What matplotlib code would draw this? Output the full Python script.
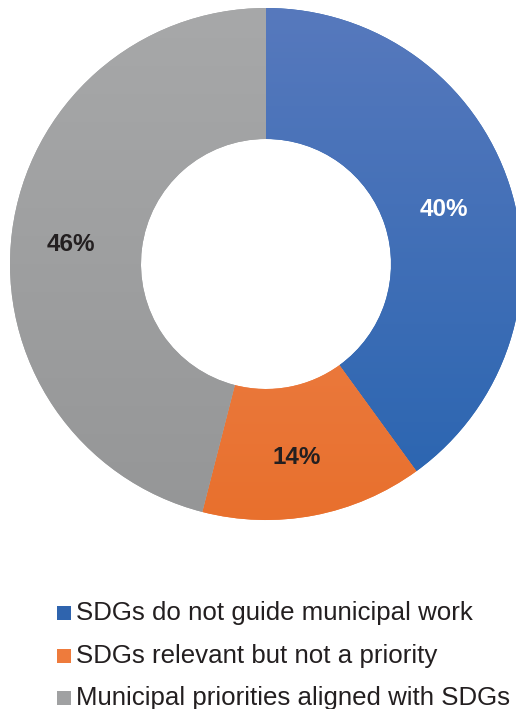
import numpy as np
import matplotlib.pyplot as plt
from matplotlib.colors import LinearSegmentedColormap

# Encuesta: rol de los ODS en el trabajo municipal
categorias = ['SDGs do not guide municipal work',
              'SDGs relevant but not a priority',
              'Municipal priorities aligned with SDGs']
valores = [40, 14, 46]

# colores arriba / abajo del degradado de cada porcion
col_arriba = ['#5779bd', '#f08b5c', '#a7a8a9']
col_abajo = ['#2864b0', '#e8702d', '#959697']
col_leyenda = ['#2f64ae', '#ee7b3c', '#a0a1a2']
col_texto = ['white', '#231f20', '#231f20']

W, H = 516, 709
fig = plt.figure(figsize=(W / 100, H / 100), dpi=100)
ax = fig.add_axes([0, 0, 1, 1])

cx, cy = 266, H - 264
R = 256
wedges = ax.pie(valores, center=(cx, cy), radius=R, startangle=90,
                counterclock=False, colors=col_leyenda,
                wedgeprops=dict(width=131, linewidth=0))[0]

# degradado vertical recortado a cada porcion
grad = np.linspace(0, 1, 256).reshape(-1, 1)
for w, c1, c2 in zip(wedges, col_arriba, col_abajo):
    cmap = LinearSegmentedColormap.from_list('g', [c2, c1])
    im = ax.imshow(grad, cmap=cmap, origin='lower', aspect='auto',
                   extent=(cx - R, cx + R, cy - R, cy + R), zorder=2)
    im.set_clip_path(w)

# etiquetas de porcentaje en el centro del anillo (un poco corridas)
total = sum(valores)
acum = 0
for v, c in zip(valores, col_texto):
    ang = np.deg2rad(90 - (acum + v / 2) / total * 360)
    acum += v
    r = 0.75 * R
    ax.text(cx - 5 + r * np.cos(ang), cy - 5 + r * np.sin(ang), f'{v}%',
            ha='center', va='center', fontsize=17.5, fontweight='bold',
            color=c, family='Liberation Sans', zorder=3)

# leyenda a mano
y0 = H - 613
for i, (cat, c) in enumerate(zip(categorias, col_leyenda)):
    y = y0 - i * 42.5
    ax.add_patch(plt.Rectangle((57, y - 7), 14, 14, color=c, lw=0, zorder=3))
    ax.text(76, y, cat, ha='left', va='center', fontsize=18.6,
            color='#231f20', family='Liberation Sans', zorder=3)

ax.set_xlim(0, W)
ax.set_ylim(0, H)
ax.set_aspect('auto')
ax.axis('off')

fig.savefig('out.png', dpi=100)
